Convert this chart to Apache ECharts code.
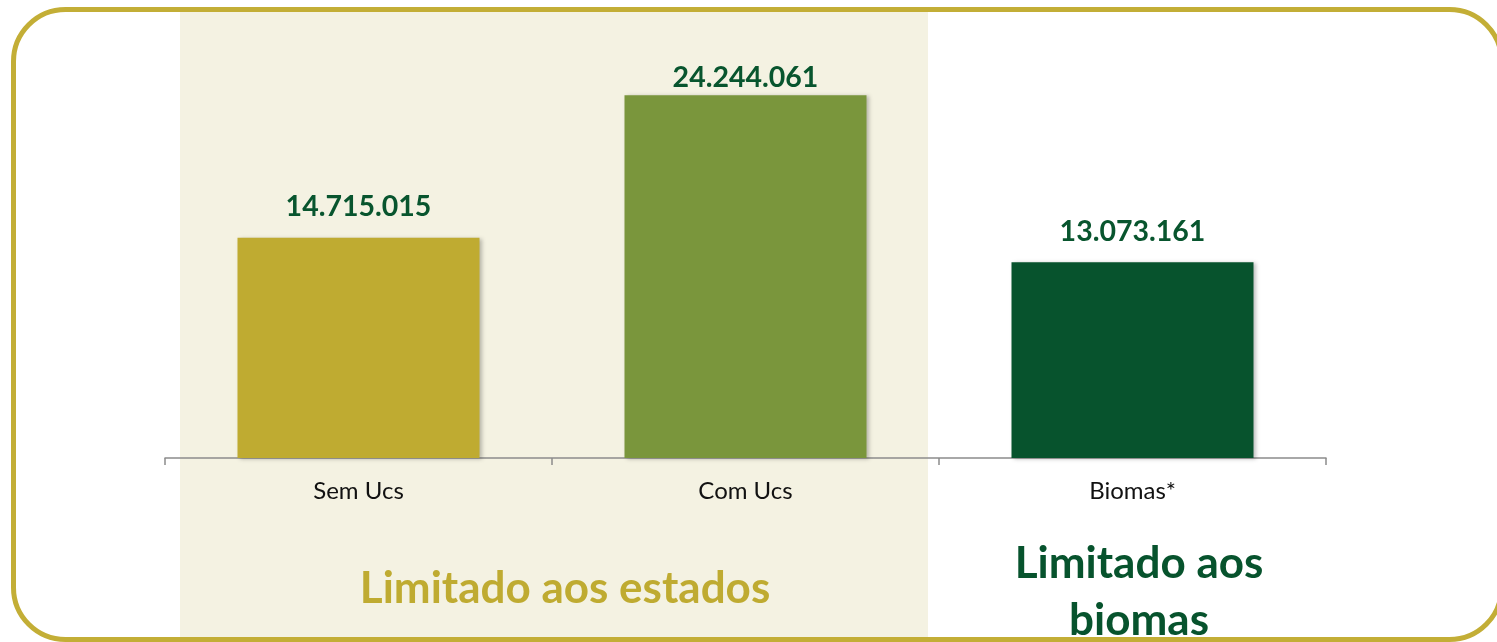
<!DOCTYPE html>
<html>
<head>
<meta charset="utf-8">
<script src="https://cdn.jsdelivr.net/npm/echarts@6/dist/echarts.min.js"></script>
<style>
  html, body { margin: 0; padding: 0; background: #fff; }
  #chart { width: 1497px; height: 642px; }
</style>
</head>
<body>
<div id="chart"></div>
<script>
const categories = ['Sem Ucs', 'Com Ucs', 'Biomas*']
const values = [14715015, 24244061, 13073161]
const barColors = ['#bfab31', '#7a963c', '#07532d']
const groupLabels = ['Limitado aos estados', 'Limitado aos\nbiomas']

const chart = echarts.init(document.getElementById('chart'))

function fmt(v) {
  return String(v).replace(/\B(?=(\d{3})+(?!\d))/g, '.')
}

// tallest bar's label sits closer to the bar (clipped by plot top in the original)
const maxVal = Math.max(...values)

const option = {
  animation: false,
  textStyle: { fontFamily: 'Lato, "Open Sans", sans-serif' },
  graphic: [
    {
      type: 'rect', z: -10, silent: true,
      shape: { x: 180, y: 10, width: 748, height: 640 },
      style: { fill: '#f4f2e2' }
    },
    {
      type: 'rect', z: -5, silent: true,
      shape: { x: 13.5, y: 9.5, width: 1488, height: 630, r: 52 },
      style: { fill: 'none', stroke: '#c3ae36', lineWidth: 5 }
    },
    {
      type: 'text', z: 10,
      style: {
        text: groupLabels[0], x: 565, y: 589,
        align: 'center', verticalAlign: 'middle',
        fill: '#bfab31', font: 'bold 44px Lato, "Open Sans", sans-serif'
      }
    },
    {
      type: 'text', z: 10,
      style: {
        text: groupLabels[1], x: 1139, y: 592,
        align: 'center', verticalAlign: 'middle', lineHeight: 57,
        fill: '#07532d', font: 'bold 44px Lato, "Open Sans", sans-serif'
      }
    }
  ],
  grid: { left: 165, right: 171, top: 9, bottom: 184 },
  xAxis: {
    type: 'category',
    data: categories,
    axisLine: { lineStyle: { color: '#8c8c8c', width: 1.5 } },
    axisTick: { show: true, length: 7, lineStyle: { color: '#8c8c8c', width: 1.5 } },
    axisLabel: { color: '#111', fontSize: 24, margin: 21 }
  },
  yAxis: {
    type: 'value', min: 0, max: 30000000,
    show: false, splitLine: { show: false }
  },
  series: [{
    type: 'bar',
    barWidth: 242,
    data: values.map((v, i) => ({
      value: v,
      itemStyle: { color: barColors[i] },
      label: { distance: v === maxVal ? 3 : 16 }
    })),
    itemStyle: { shadowColor: 'rgba(0,0,0,0.25)', shadowBlur: 4, shadowOffsetX: 2, shadowOffsetY: 1 },
    label: {
      show: true, position: 'top', distance: 16,
      color: '#08552e', fontWeight: 'bold', fontSize: 28.5,
      formatter: p => fmt(p.value)
    }
  }]
}

chart.setOption(option)
</script>
</body>
</html>
